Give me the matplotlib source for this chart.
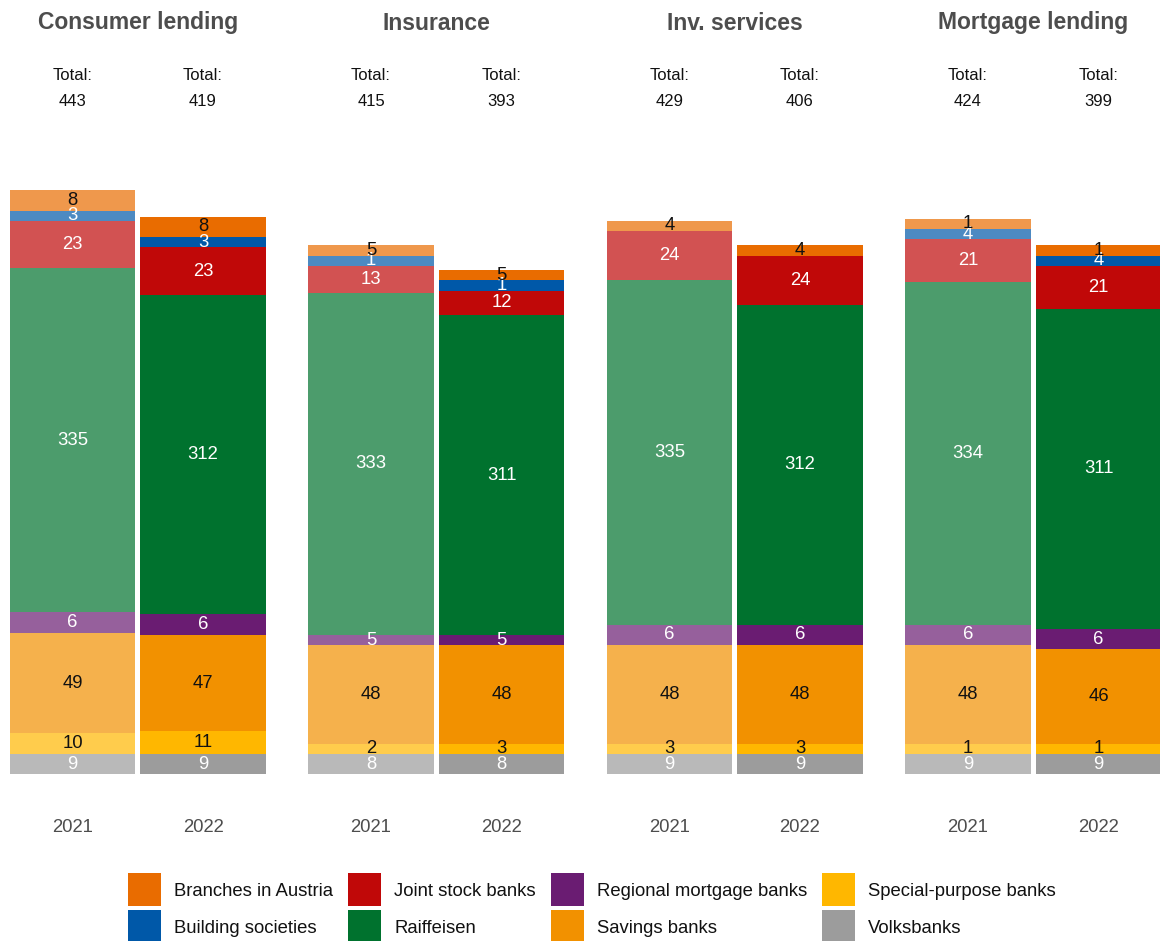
import matplotlib
matplotlib.use("Agg")
import matplotlib.pyplot as plt
import matplotlib.transforms as mtransforms
from matplotlib.patches import Patch, Rectangle
from matplotlib.legend_handler import HandlerPatch

plt.rcParams['font.family'] = ['Liberation Sans', 'DejaVu Sans']

# panels and years
panels = ["Consumer lending", "Insurance", "Inv. services", "Mortgage lending"]
years = ["2021", "2022"]

# sectors, stacked bottom -> top
sectors = ["Volksbanks", "Special-purpose banks", "Savings banks", "Regional mortgage banks",
           "Raiffeisen", "Joint stock banks", "Building societies", "Branches in Austria"]
colors = ["#9C9C9C", "#FFB700", "#F29100", "#6A1C72",
          "#00722E", "#C00808", "#0058A8", "#E96C00"]
label_colors = ["white", "#111111", "#111111", "white",
                "white", "white", "white", "#111111"]

# number of banks per sector (labels), one list per panel
counts_2021 = [
    [9, 10, 49, 6, 335, 23, 3, 8],
    [8, 2, 48, 5, 333, 13, 1, 5],
    [9, 3, 48, 6, 335, 24, 0, 4],
    [9, 1, 48, 6, 334, 21, 4, 1],
]
counts_2022 = [
    [9, 11, 47, 6, 312, 23, 3, 8],
    [8, 3, 48, 5, 311, 12, 1, 5],
    [9, 3, 48, 6, 312, 24, 0, 4],
    [9, 1, 46, 6, 311, 21, 4, 1],
]
# drawn segment sizes as they appear in the chart (small ones padded, Raiffeisen halved)
size_2021 = [
    [10, 10, 49, 10, 168, 23, 5, 10],
    [10, 5, 48, 5, 167, 13, 5, 5],
    [10, 5, 48, 10, 168, 24, 0, 5],
    [10, 5, 48, 10, 167, 21, 5, 5],
]
size_2022 = [
    [10, 11, 47, 10, 156, 23, 5, 10],
    [10, 5, 48, 5, 156, 12, 5, 5],
    [10, 5, 48, 10, 156, 24, 0, 5],
    [10, 5, 46, 10, 156, 21, 5, 5],
]

W, H = 1160, 941
fig = plt.figure(figsize=(W / 100, H / 100), dpi=100)

unit_px = 130.5      # distance between the two bars of a panel
panel_step = 298.5
px_per_val = 2.05
base_px = 774.3
ymax = 290

for i, panel in enumerate(panels):
    left = 7.25 + panel_step * i
    ax = fig.add_axes([left / W, (H - base_px) / H, 2 * unit_px / W, ymax * px_per_val / H])
    ax.set_xlim(-0.5, 1.5)
    ax.set_ylim(0, ymax)
    ax.axis('off')
    trans = mtransforms.blended_transform_factory(ax.transData, fig.transFigure)

    for j, (counts, sizes) in enumerate([(counts_2021[i], size_2021[i]), (counts_2022[i], size_2022[i])]):
        alpha = 0.7 if j == 0 else 1.0
        bottom = 0
        for k in range(len(sectors)):
            if sizes[k] > 0:
                ax.bar(j, sizes[k], bottom=bottom, width=0.958, color=colors[k],
                       alpha=alpha, linewidth=0)
                ax.text(j, bottom + sizes[k] / 2, str(counts[k]), ha='center', va='center',
                        fontsize=13.3, color=label_colors[k])
            bottom += sizes[k]
        ax.text(j, 1 - 75 / H, "Total:", transform=trans, ha='center', va='center',
                fontsize=12, color='#111111')
        ax.text(j, 1 - 101 / H, str(sum(counts)), transform=trans, ha='center', va='center',
                fontsize=12, color='#111111')
        ax.text(j, 1 - 827 / H, years[j], transform=trans, ha='center', va='center',
                fontsize=13.3, color='#4D4D4D')

    ax.text(0.5, 1 - 23 / H, panel, transform=trans, ha='center', va='center',
            fontsize=16.5, fontweight='bold', color='#4D4D4D')


# square legend keys
def square_key(legend, orig_handle, xdescent, ydescent, width, height, fontsize):
    return Rectangle((-xdescent, -ydescent + height / 2 - width / 2), width, width)


# legend, alphabetical, filled column by column
order = sorted(range(len(sectors)), key=lambda k: sectors[k])
handles = [Patch(facecolor=colors[k], edgecolor='none') for k in order]
labels = [sectors[k] for k in order]
fig.legend(handles, labels, loc='center', bbox_to_anchor=(592 / W, 1 - 908.5 / H), ncol=4,
           frameon=False, fontsize=13.3, handlelength=1.8, handleheight=1.2,
           handletextpad=0.7, columnspacing=0.8, labelspacing=0.93, borderpad=0,
           labelcolor='#111111', handler_map={Patch: HandlerPatch(patch_func=square_key)})

fig.savefig("out.png", dpi=100)
